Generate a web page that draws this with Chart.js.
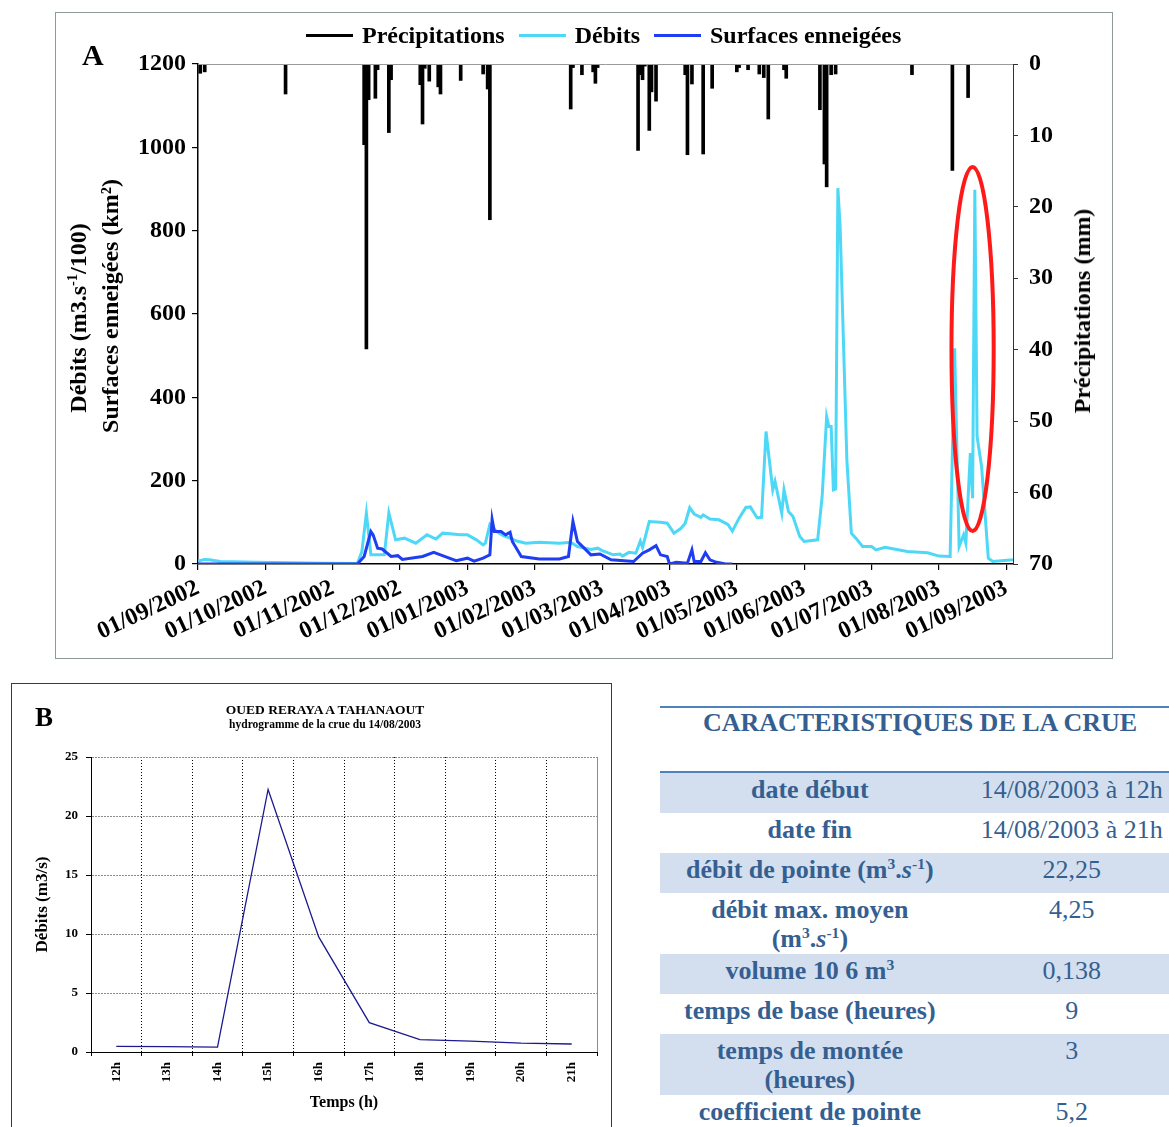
<!DOCTYPE html>
<html lang="fr">
<head>
<meta charset="utf-8">
<script src="https://cdn.jsdelivr.net/npm/chart.js@4.4.0/dist/chart.umd.min.js"></script>
<style>
  body { margin:0; width:1169px; height:1127px; overflow:hidden; background:#fff; position:relative;
         font-family:"Liberation Serif", "Times New Roman", serif; color:#000; }
  #panelA { position:absolute; left:55px; top:12px; width:1056px; height:645px; border:1px solid #8e9a9a; }
  #panelB { position:absolute; left:11px; top:683px; width:599px; height:470px; border:1px solid #3a3a3a; }
  canvas { position:absolute; left:0; top:0; }
  .letter { position:absolute; font-weight:bold; line-height:1; }
  .vt { position:absolute; transform:translate(-50%,-50%) rotate(-90deg); white-space:nowrap;
        font-weight:bold; font-size:24px; line-height:1; }
  .ctr { position:absolute; transform:translate(-50%,-50%); white-space:nowrap; font-weight:bold; line-height:1; }
  sup { font-size:0.6em; vertical-align:0.6em; line-height:0; }
  #legendA { position:absolute; left:306px; top:22px; height:26px; display:flex; align-items:center;
             font-weight:bold; font-size:24px; white-space:nowrap; }
  #legendA .sw { width:47px; height:3px; margin-right:9px; }
  #legendA .lt { margin-right:14px; }
  #crue { position:absolute; left:660px; top:706px; width:520px; color:#365f91; font-size:26px; }
  #crue .head { border-top:2px solid #4f81bd; border-bottom:2px solid #4f81bd; height:63px;
                text-align:center; font-weight:bold; line-height:30px; }
  #crue .row { display:flex; line-height:29px; padding-top:2px; box-sizing:border-box; }
  #crue .row.shaded { background:#d3dfee; }
  #crue .lab { width:302px; text-align:center; font-weight:bold; }
  #crue .val { width:218px; text-align:center; padding-left:4px; }
</style>
</head>
<body>

<div id="panelA"><canvas id="chartA" width="1056" height="645"></canvas></div>
<div class="letter" style="left:82px;top:40px;font-size:30px">A</div>
<div id="legendA"></div>
<div class="vt" style="left:78px;top:318px">Débits (m3.s<sup>-1</sup>/100)</div>
<div class="vt" style="left:110px;top:306px">Surfaces enneigées (km²)</div>
<div class="vt" style="left:1082px;top:311px">Précipitations (mm)</div>

<div id="panelB"><canvas id="chartB" width="599" height="443"></canvas></div>
<div class="letter" style="left:35px;top:704px;font-size:27px">B</div>
<div class="ctr" style="left:325px;top:710px;font-size:13.5px">OUED RERAYA A TAHANAOUT</div>
<div class="ctr" style="left:325px;top:725px;font-size:11.5px">hydrogramme de la crue du 14/08/2003</div>

<div id="crue"></div>

<script>
// --- DONNÉES ---
// Axe des temps du panneau A : jours depuis le 01/09/2002
const MONTH_LABELS = ['01/09/2002', '01/10/2002', '01/11/2002', '01/12/2002', '01/01/2003', '01/02/2003',
  '01/03/2003', '01/04/2003', '01/05/2003', '01/06/2003', '01/07/2003', '01/08/2003', '01/09/2003'];
const MONTH_TICK_DAYS = [0, 30, 60, 90, 120, 150, 180, 210, 240, 270, 300, 330, 360];
const LAST_DAY = 363;

const SERIES_NAMES = ['Précipitations', 'Débits', 'Surfaces enneigées'];
const SERIES_COLORS = ['#000000', '#4dd8f7', '#1f3df2'];

// Précipitations journalières (mm)
const PRECIP_DAYS = [1, 3, 39, 74, 75, 76, 79, 80, 85, 86, 99, 100, 101, 103, 107, 108, 117, 127, 129, 130,
  166, 167, 171, 176, 177, 178, 196, 197, 198, 199, 201, 202, 204, 217, 218, 220, 225, 229, 240, 241,
  245, 250, 252, 254, 261, 262, 277, 279, 280, 282, 284, 318, 336, 343];
const PRECIP_MM = [1.3, 1.1, 4.2, 11.3, 39.9, 5.0, 4.8, 0.8, 9.6, 2.2, 2.9, 8.4, 0.6, 2.4, 3.2, 4.2, 2.3, 1.4, 3.5, 21.8,
  6.3, 0.5, 1.5, 1.1, 2.7, 0.5, 12.1, 1.5, 2.2, 0.3, 9.3, 3.9, 5.2, 1.5, 12.7, 2.8, 12.6, 3.4, 1.1, 0.5,
  0.8, 1.4, 1.9, 7.7, 0.8, 2.0, 6.4, 14.0, 17.2, 1.5, 1.4, 1.5, 14.9, 4.7];

// Débits (m3.s-1/100)
const FLOW_DAYS = [0, 3, 5, 10, 26, 41, 56, 71, 73, 75, 77, 83, 85, 88, 92, 97, 102, 106, 109, 117, 120, 124,
  127, 128, 130, 133, 136, 139, 142, 146, 152, 161, 166, 169, 175, 178, 180, 185, 188, 189, 192, 195, 197,
  198, 201, 206, 209, 212, 215, 217, 219, 221, 224, 225, 228, 232, 236, 238, 241, 244, 246, 249, 251, 253,
  256, 257, 260, 261, 263, 265, 268, 270, 276, 278, 280, 281, 282, 283, 284, 285, 286, 289, 291, 293, 296,
  300, 302, 306, 310, 316, 325, 330, 335, 337, 339, 341, 342, 344, 345, 346, 347, 349, 352, 354, 363];
const FLOW_VALUES = [7, 11, 10, 6, 4, 3, 2, 1, 30, 122, 22, 22, 123, 58, 62, 50, 70, 60, 74, 70, 70, 58,
  46, 50, 95, 78, 68, 62, 55, 50, 52, 50, 52, 42, 35, 38, 32, 22, 24, 19, 28, 26, 55,
  40, 102, 100, 98, 74, 85, 98, 135, 120, 112, 118, 108, 106, 95, 79, 110, 136, 137, 111, 112, 318,
  178, 198, 122, 178, 126, 114, 66, 54, 58, 162, 354, 330, 330, 178, 180, 902, 810, 250, 74, 62, 42,
  42, 34, 40, 36, 30, 27, 19, 18, 518, 42, 70, 50, 266, 158, 898, 306, 234, 14, 6, 10];

// Surfaces enneigées (km²)
const SNOW_DAYS = [0, 71, 74, 77, 78, 80, 82, 86, 89, 91, 100, 105, 111, 115, 120, 123, 127, 130, 131, 132,
  135, 137, 139, 140, 144, 152, 161, 165, 167, 169, 172, 175, 179, 184, 194, 198, 201, 204, 206, 209,
  210, 213, 218, 220, 221, 224, 226, 228, 231, 235, 238];
const SNOW_VALUES = [0, 0, 18, 78, 70, 38, 36, 18, 20, 11, 18, 28, 16, 8, 14, 7, 14, 22, 107, 78,
  78, 70, 76, 54, 18, 12, 12, 18, 102, 54, 38, 22, 24, 10, 6, 26, 34, 44, 22, 18,
  0, 4, 2, 34, 6, 6, 27, 10, 4, 0, 0];

// Crue du 14/08/2003 (panneau B)
const HOURS = ['12h', '13h', '14h', '15h', '16h', '17h', '18h', '19h', '20h', '21h'];
const HOURLY_FLOW = [0.48, 0.45, 0.42, 22.25, 9.75, 2.49, 1.05, 0.92, 0.75, 0.68];

// Tableau des caractéristiques
const CRUE_LABELS = ['date début', 'date fin', 'débit de pointe (m<sup>3</sup>.<i>s</i><sup>-1</sup>)',
  'débit max. moyen<br>(m<sup>3</sup>.<i>s</i><sup>-1</sup>)', 'volume 10 6 m<sup>3</sup>',
  'temps de base (heures)', 'temps de montée<br>(heures)', 'coefficient de pointe'];
const CRUE_VALUES = ['14/08/2003 à 12h', '14/08/2003 à 21h', '22,25', '4,25', '0,138', '9', '3', '5,2'];

// zone entourée en rouge (crue d'août), en unités des axes
const FLOOD_MARK = { day: 345, value: 516, halfDays: 9.4, halfValue: 437 };

// --- RÉGLAGES ---
const FONT = '"Liberation Serif", "Times New Roman", serif';
Chart.defaults.font.family = FONT;
Chart.defaults.color = '#000';

const toPoints = (xs, ys) => xs.map((x, i) => ({ x: x, y: ys[i] }));
const plainNumber = (v) => String(v);

// --- LÉGENDE (HTML) ---
const legend = document.getElementById('legendA');
SERIES_NAMES.forEach((name, i) => {
    const sw = document.createElement('span');
    sw.className = 'sw';
    sw.style.background = SERIES_COLORS[i];
    const lt = document.createElement('span');
    lt.className = 'lt';
    lt.textContent = name;
    legend.appendChild(sw);
    legend.appendChild(lt);
});

// --- PANNEAU A ---
const frameA = {
    id: 'frameA',
    afterDraw(chart) {
        const { ctx, chartArea } = chart;
        ctx.save();
        ctx.strokeStyle = '#9a9a9a';
        ctx.lineWidth = 1;
        ctx.beginPath();
        ctx.moveTo(chartArea.left, chartArea.top + 0.5);
        ctx.lineTo(chartArea.right, chartArea.top + 0.5);
        ctx.stroke();
        ctx.restore();
    }
};

const floodEllipse = {
    id: 'floodEllipse',
    afterDatasetsDraw(chart) {
        const { ctx, scales } = chart;
        const cx = scales.x.getPixelForValue(FLOOD_MARK.day);
        const cy = scales.y.getPixelForValue(FLOOD_MARK.value);
        const rx = Math.abs(scales.x.getPixelForValue(FLOOD_MARK.day + FLOOD_MARK.halfDays) - cx);
        const ry = Math.abs(scales.y.getPixelForValue(FLOOD_MARK.value + FLOOD_MARK.halfValue) - cy);
        ctx.save();
        ctx.strokeStyle = '#ff1a1a';
        ctx.lineWidth = 4;
        ctx.beginPath();
        ctx.ellipse(cx, cy, rx, ry, 0, 0, Math.PI * 2);
        ctx.stroke();
        ctx.restore();
    }
};

const boldA = { family: FONT, size: 24, weight: 'bold' };

new Chart(document.getElementById('chartA'), {
    type: 'line',
    data: {
        datasets: [
            {
                label: SERIES_NAMES[2], data: toPoints(SNOW_DAYS, SNOW_VALUES), yAxisID: 'y',
                borderColor: SERIES_COLORS[2], borderWidth: 3, pointRadius: 0, order: 1
            },
            {
                label: SERIES_NAMES[1], data: toPoints(FLOW_DAYS, FLOW_VALUES), yAxisID: 'y',
                borderColor: SERIES_COLORS[1], borderWidth: 3, pointRadius: 0, order: 2
            },
            {
                type: 'bar', label: SERIES_NAMES[0], data: toPoints(PRECIP_DAYS, PRECIP_MM), yAxisID: 'yP',
                backgroundColor: SERIES_COLORS[0], barThickness: 3, order: 3
            }
        ]
    },
    options: {
        responsive: false,
        animation: false,
        layout: { padding: { top: 51, left: 0, right: 0, bottom: 0 } },
        plugins: { legend: { display: false }, tooltip: { enabled: false } },
        scales: {
            x: {
                type: 'linear', min: 0, max: LAST_DAY, offset: false,
                afterBuildTicks: (axis) => { axis.ticks = MONTH_TICK_DAYS.map(v => ({ value: v })); },
                ticks: {
                    callback: (v, i) => MONTH_LABELS[i], autoSkip: false,
                    minRotation: 25, maxRotation: 25, padding: 4, font: boldA, color: '#000'
                },
                grid: { drawOnChartArea: false, offset: false, color: '#000', tickLength: 6, lineWidth: 1.2 },
                border: { color: '#000', width: 1.5 },
                afterFit: (s) => { s.height = 94; }
            },
            y: {
                position: 'left', min: 0, max: 1200,
                ticks: { stepSize: 200, padding: 6, font: boldA, color: '#000', callback: plainNumber },
                grid: { drawOnChartArea: false, color: '#000', tickLength: 6, lineWidth: 1.2 },
                border: { color: '#000', width: 1.5 },
                afterFit: (s) => { s.width = 142; }
            },
            yP: {
                position: 'right', reverse: true, min: 0, max: 70,
                ticks: { stepSize: 10, padding: 11, font: boldA, color: '#000', callback: plainNumber },
                grid: { drawOnChartArea: false, color: '#333', tickLength: 5 },
                border: { color: '#333', width: 1 },
                afterFit: (s) => { s.width = 99; }
            }
        }
    },
    plugins: [frameA, floodEllipse]
});

// --- PANNEAU B ---
const frameB = {
    id: 'frameB',
    afterDraw(chart) {
        const { ctx, chartArea } = chart;
        ctx.save();
        ctx.strokeStyle = '#8c8c8c';
        ctx.lineWidth = 1;
        ctx.beginPath();
        ctx.moveTo(chartArea.right + 0.5, chartArea.top);
        ctx.lineTo(chartArea.right + 0.5, chartArea.bottom);
        ctx.stroke();
        ctx.restore();
    }
};

const boldB = { family: FONT, size: 13, weight: 'bold' };

new Chart(document.getElementById('chartB'), {
    type: 'line',
    data: {
        labels: HOURS,
        datasets: [{
            data: HOURLY_FLOW, borderColor: '#1b1b8f', borderWidth: 1.3, pointRadius: 0
        }]
    },
    options: {
        responsive: false,
        animation: false,
        layout: { padding: { top: 73, right: 14, left: 0, bottom: 0 } },
        plugins: { legend: { display: false }, tooltip: { enabled: false } },
        scales: {
            x: {
                offset: true,
                ticks: { minRotation: 90, maxRotation: 90, autoSkip: false, padding: 6, font: boldB, color: '#000' },
                grid: { offset: true, color: '#000', tickColor: '#000', tickLength: 4 },
                border: { color: '#000', width: 1, dash: [1, 2] },
                title: {
                    display: true, text: 'Temps (h)', color: '#000',
                    font: { family: FONT, size: 16, weight: 'bold' }, padding: { top: 0, bottom: 15 }
                },
                afterFit: (s) => { s.height = 75; }
            },
            y: {
                min: 0, max: 25,
                ticks: { stepSize: 5, padding: 8, font: boldB, color: '#000' },
                grid: { color: '#8c8c8c', tickColor: '#000', tickLength: 5 },
                border: { color: '#000', width: 1, dash: [2, 1] },
                title: {
                    display: true, text: 'Débits (m3/s)', color: '#000',
                    font: { family: FONT, size: 17, weight: 'bold' }, padding: { top: 20, bottom: 0 }
                },
                afterFit: (s) => { s.width = 79; }
            }
        }
    },
    plugins: [frameB]
});

// --- TABLEAU ---
const crue = document.getElementById('crue');
const head = document.createElement('div');
head.className = 'head';
head.textContent = 'CARACTERISTIQUES DE LA CRUE';
crue.appendChild(head);
CRUE_LABELS.forEach((label, i) => {
    const row = document.createElement('div');
    row.className = 'row' + (i % 2 === 0 ? ' shaded' : '');
    row.style.height = (label.includes('<br>') ? 61 : 40) + 'px';
    row.innerHTML = '<div class="lab">' + label + '</div><div class="val">' + CRUE_VALUES[i] + '</div>';
    crue.appendChild(row);
});
</script>
</body>
</html>
